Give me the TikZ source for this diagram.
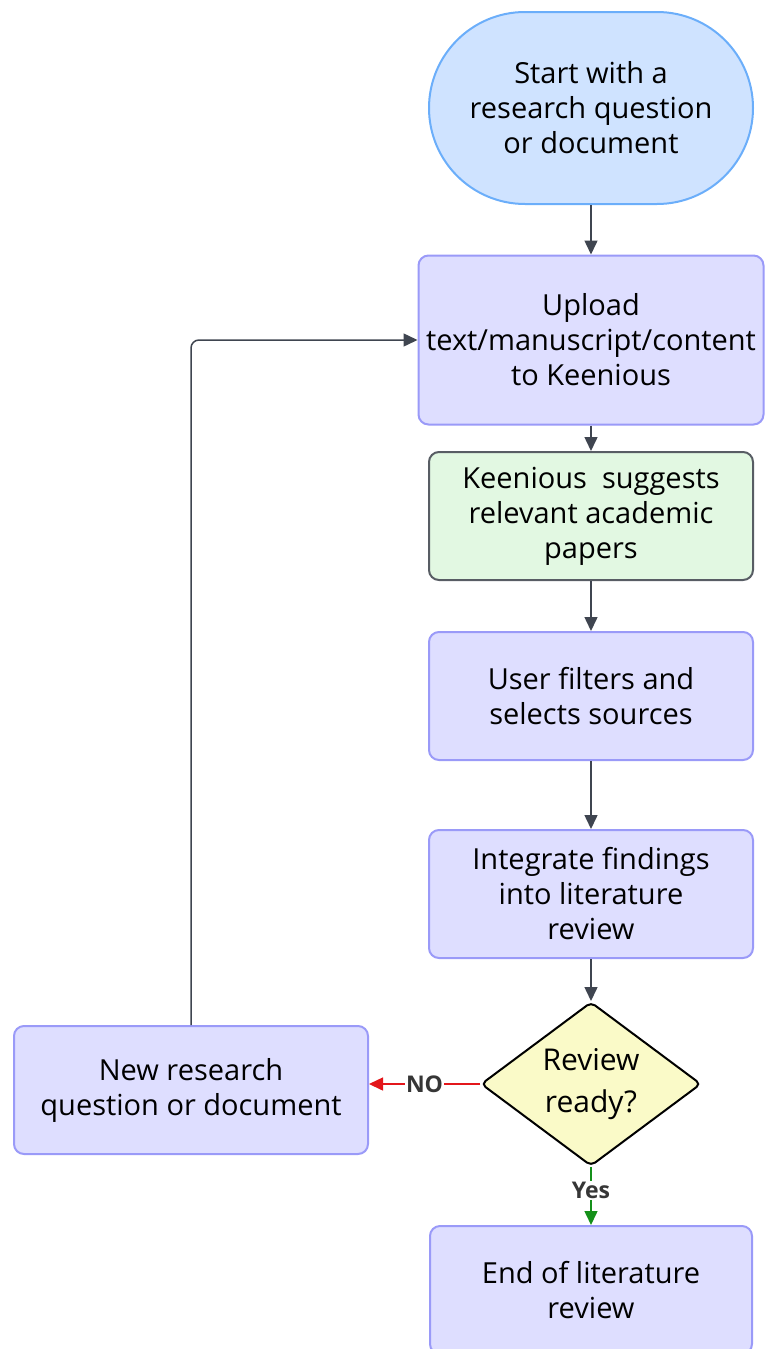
\documentclass[tikz,border=0pt]{standalone}
\usepackage{fontspec}
\setmainfont{Open Sans}
\usetikzlibrary{positioning,shapes.geometric,arrows.meta}

\definecolor{termfill}{HTML}{CFE3FF}
\definecolor{termline}{HTML}{6BAEFA}
\definecolor{procfill}{HTML}{DEDEFF}
\definecolor{procline}{HTML}{9A9AF8}
\definecolor{toolfill}{HTML}{E2F8E2}
\definecolor{toolline}{HTML}{585D64}
\definecolor{askfill}{HTML}{FAFAC8}
\definecolor{linkgray}{HTML}{3F4550}
\definecolor{nored}{HTML}{E3161B}
\definecolor{yesgreen}{HTML}{15901A}
\definecolor{labelgray}{HTML}{363636}

\tikzset{
  box/.style={draw, rectangle, rounded corners=10pt, line width=2pt, align=center,
    font=\fontsize{29}{35}\selectfont, minimum width=324pt, minimum height=128pt},
  term/.style={box, rounded corners=96pt, fill=termfill, draw=termline, minimum height=192pt},
  proc/.style={box, fill=procfill, draw=procline},
  tool/.style={box, fill=toolfill, draw=toolline},
  ask/.style={draw, diamond, line width=2pt, fill=askfill, rounded corners=5pt, align=center,
    font=\fontsize{30}{42}\selectfont, inner sep=0pt, aspect=1.33, minimum width=220pt, minimum height=164pt},
  link/.style={draw=linkgray, line width=1.5pt, -{Triangle[length=14pt,width=13pt]}},
  tag/.style={auto=false, fill=white, inner sep=1pt, text=labelgray, font=\fontsize{23}{25}\selectfont\bfseries}
}

\begin{document}
\begin{tikzpicture}[x=1pt, y=1pt, auto, node distance=180pt]
    \useasboundingbox (0,0) rectangle (765,-1349);

    % Nodes
    \node [term] (start) at (591,-108) {Start with a\\research question\\or document};
    \node [proc, below of=start, node distance=232pt, minimum width=345pt, minimum height=169pt] (upload) {Upload\\text/manuscript/content\\to Keenious};
    \node [tool, below of=upload, node distance=176pt] (keenious) {Keenious\ \ suggests\\relevant academic\\papers};
    \node [proc, below of=keenious, node distance=180pt] (filters) {User filters and\\selects sources};
    \node [proc, below of=filters, node distance=198pt] (integrate) {Integrate findings\\into literature\\review};
    \node [ask, below of=integrate, node distance=190pt] (ready) {Review\\ready?};
    \node [proc, left of=ready, node distance=400pt, yshift=-6pt, minimum width=354pt] (newq) {New research\\question or document};
    \node [proc, below of=ready, node distance=206pt, minimum width=322pt] (finish) {End of literature\\review};

    % Connections
    \draw [link] (start) -- (upload);
    \draw [link] (upload) -- (keenious);
    \draw [link] (keenious) -- (filters);
    \draw [link] (filters) -- (integrate);
    \draw [link] (integrate) -- (ready);
    \draw [link, draw=nored, fill=nored] (ready.west) -- node [tag, pos=0.5] {NO} (newq.east |- ready.west);
    \draw [link, draw=yesgreen, fill=yesgreen] (ready) -- node [tag, pos=0.4] {Yes} (finish);
    \draw [link, rounded corners=8pt] (newq) |- (upload);
\end{tikzpicture}
\end{document}
